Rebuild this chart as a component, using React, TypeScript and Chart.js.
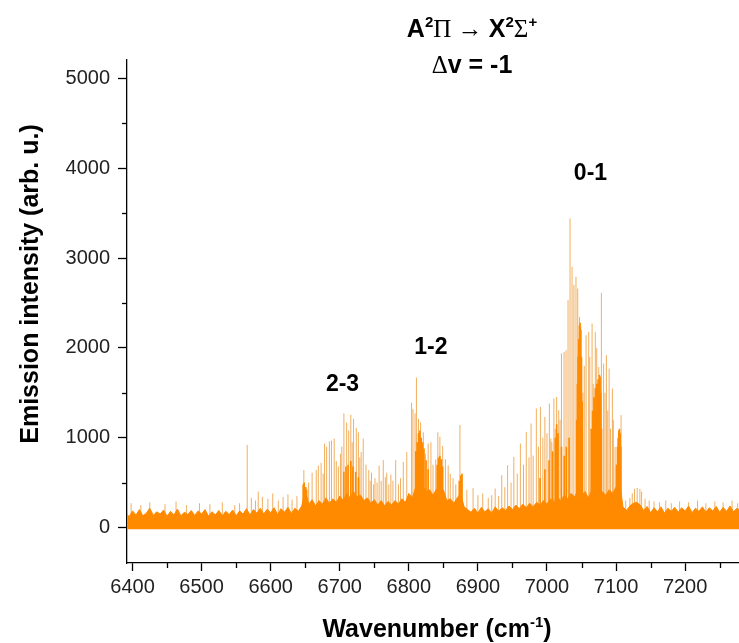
import React, { useEffect, useRef } from 'react';
import { Chart, registerables } from 'chart.js';

Chart.register(...registerables);

// ---- axis limits & ticks ----
const X_MIN = 6392;
const X_MAX = 7278;
const Y_MIN = -395;
const Y_MAX = 5205;
const xTickValues = [6400, 6500, 6600, 6700, 6800, 6900, 7000, 7100, 7200];
const xMinorTicks = [6450, 6550, 6650, 6750, 6850, 6950, 7050, 7150, 7250];
const yTickValues = [0, 1000, 2000, 3000, 4000, 5000];
const yMinorTicks = [500, 1500, 2500, 3500, 4500];

// ---- dense noise floor top edge (every 5 cm-1 from 6390) ----
const noiseStart = 6390;
const noiseStep = 5;
const noiseTop = [
  170, 120, 185, 140, 200, 130, 160, 215, 135, 175, // 6390-6435
  150, 195, 125, 180, 140, 205, 130, 170, 145, 190, // 6440-6485
  135, 185, 150, 200, 125, 175, 140, 190, 130, 180, // 6490-6535
  145, 195, 130, 185, 150, 210, 140, 200, 160, 215, // 6540-6585
  150, 205, 165, 220, 145, 210, 170, 225, 155, 215, // 6590-6635
  180, 240, 420, 260, 310, 240, 300, 260, 330, 270, // 6640-6685
  320, 280, 350, 300, 380, 330, 400, 340, 360, 300, // 6690-6735
  330, 270, 310, 250, 300, 240, 290, 250, 300, 260, // 6740-6785
  320, 280, 380, 330, 450, 380, 470, 400, 420, 360, // 6790-6835
  430, 380, 420, 300, 320, 270, 330, 380, 230, 200, // 6840-6885
  170, 215, 160, 225, 175, 210, 160, 230, 180, 220, // 6890-6935
  190, 240, 200, 250, 210, 260, 220, 270, 230, 280, // 6940-6985
  250, 300, 260, 320, 280, 340, 300, 360, 320, 380, // 6990-7035
  340, 420, 360, 400, 330, 420, 380, 450, 400, 360, // 7040-7085
  420, 380, 450, 520, 230, 190, 240, 270, 280, 250, // 7090-7135
  190, 235, 165, 220, 175, 230, 160, 215, 180, 225, // 7140-7185
  170, 220, 185, 240, 165, 215, 180, 230, 170, 220, // 7190-7235
  185, 235, 170, 225, 180, 240, 175, 215, 190, // 7240-7280
];

// ---- resolved rotational lines [wavenumber, intensity] ----
const preLines: [number, number][] = [
  [6398, 270], [6412, 250], [6425, 280], [6447, 260], [6463, 290], [6478, 250],
  [6497, 270], [6512, 260], [6530, 280], [6548, 250], [6555, 270], [6566, 920],
  [6572, 330], [6578, 300], [6582, 400], [6588, 340], [6596, 320], [6603, 380],
  [6611, 300], [6618, 340], [6625, 370], [6631, 310], [6638, 350],
];
const band23Lines: [number, number][] = [
  [6648, 640], [6652, 450], [6655, 500], [6660, 610], [6666, 640], [6669, 690],
  [6673, 720], [6676, 600], [6678, 935], [6681, 900], [6685, 960], [6688, 970],
  [6692, 990], [6695, 740], [6698, 680], [6701, 820], [6703, 900], [6706, 1270],
  [6710, 1170], [6713, 1080], [6716, 1255], [6718, 950], [6720, 1210], [6724, 1110],
  [6727, 1060], [6729, 780], [6731, 840], [6734, 990], [6738, 700], [6742, 640],
  [6744, 520], [6746, 610], [6749, 480], [6751, 550], [6754, 500], [6757, 690],
  [6760, 520], [6763, 750], [6766, 560], [6768, 610], [6771, 480], [6774, 590],
  [6777, 520], [6781, 750], [6785, 480], [6788, 550], [6792, 730], [6797, 840],
];
const band12Lines: [number, number][] = [
  [6804, 1390], [6806, 1320], [6809, 1270], [6811, 1670], [6814, 1210], [6817, 1170],
  [6821, 1060], [6824, 820], [6828, 935], [6832, 950], [6835, 700], [6839, 760],
  [6842, 1060], [6845, 1010], [6849, 910], [6853, 760], [6857, 690], [6860, 600],
  [6864, 550], [6868, 480], [6874, 1140], [6877, 600], [6884, 420], [6893, 440],
  [6900, 360], [6907, 380], [6915, 330], [6920, 360],
];
const band01Lines: [number, number][] = [
  [6925, 434], [6930, 350], [6934.5, 582], [6939, 450], [6943, 694], [6948, 500],
  [6952, 786], [6957, 600], [6961.5, 935], [6966, 700], [6970, 1065], [6974, 780],
  [6977, 1158], [6980, 800], [6984.6, 1325], [6987.6, 900], [6990.5, 1343], [6994, 1000],
  [6997, 1232], [7000, 1050], [7003.5, 1381], [7005.5, 991], [7007, 950], [7010, 1436],
  [7012, 1100], [7014, 1454], [7017, 1306], [7019, 1200], [7021, 1938], [7024.7, 1955],
  [7027.6, 1974], [7030.5, 2531], [7033.4, 3441], [7036.3, 2902], [7039, 2700], [7042, 2791],
  [7044.5, 2661], [7047, 2345], [7049, 2234], [7052, 1500], [7054, 1800], [7056.6, 2141],
  [7060.4, 2178], [7062, 1900], [7065.3, 2272], [7067, 1600], [7070, 2178], [7072, 2000],
  [7075, 1788], [7078.8, 2612], [7082, 1826], [7084, 1500], [7086, 1919], [7088, 1300],
  [7090, 1770], [7092, 1100], [7094.7, 1548], [7096, 1200], [7098.6, 898], [7100, 700],
  [7102.4, 786], [7107.3, 1251],
];
const postLines: [number, number][] = [
  [7114, 300], [7120, 330], [7123.5, 380], [7126.8, 430], [7130.6, 440], [7134.5, 430],
  [7137, 400], [7142, 320], [7148, 300], [7155, 290], [7163, 280], [7172, 300],
  [7180, 270], [7192, 290], [7205, 280], [7218, 300], [7230, 270], [7243, 290],
  [7255, 280], [7268, 300], [7276, 270],
];
// overlapping (unresolved) lines that appear as solid orange
const denseLines: [number, number][] = [
  [6647, 480], [6648.5, 500], [6650, 450], [6652, 420],
  [6706, 620], [6709, 680], [6712, 700], [6716, 740], [6719, 680], [6723, 620], [6727, 560],
  [6810, 850], [6812, 950], [6814, 1050], [6816, 1080], [6818, 1000], [6820, 950],
  [6822, 880], [6825, 750], [6828, 650], [6841, 700], [6843, 780], [6845, 800],
  [6847, 760], [6849, 680], [6873, 520], [6875, 580], [6877, 600],
  [6990, 550], [6997, 650], [7003, 750], [7008, 850], [7012, 1000], [7014, 1150],
  [7016, 1050], [7021, 900], [7025, 800], [7028, 900], [7032, 1000],
  [7043, 1200], [7044, 1600], [7045, 1900], [7046, 2100], [7047, 2250], [7048, 2280],
  [7049, 2200], [7050, 1900], [7051, 1400],
  [7064, 1100], [7066, 1300], [7068, 1450], [7070, 1550], [7072, 1600], [7074, 1650],
  [7076, 1700], [7077, 1680], [7078, 1500], [7079, 1100],
  [7101, 700], [7102, 900], [7103, 1000], [7104, 1080], [7105, 1100], [7106, 1050], [7107, 900],
];

// ---- band labels [text, wavenumber, intensity] ----
const bandLabels: [string, number, number][] = [
  ['2-3', 6704, 1585],
  ['1-2', 6832, 2004],
  ['0-1', 7063, 3942],
];

const LINE_BASE = 60;
const ORANGE = 'rgb(255,138,0)';
const SANS = '"Liberation Sans", Arial, sans-serif';
const SERIF = '"Liberation Serif", "Times New Roman", serif';

type Run = { t: string; f: string; dy?: number };

function drawRuns(ctx: CanvasRenderingContext2D, runs: Run[], cx: number, baseline: number) {
  let total = 0;
  for (const r of runs) {
    ctx.font = r.f;
    total += ctx.measureText(r.t).width;
  }
  let x = cx - total / 2;
  ctx.textAlign = 'left';
  ctx.textBaseline = 'alphabetic';
  for (const r of runs) {
    ctx.font = r.f;
    ctx.fillText(r.t, x, baseline + (r.dy || 0));
    x += ctx.measureText(r.t).width;
  }
}

function toSegments(list: [number, number][]) {
  const out: any[] = [];
  for (const [wn, h] of list) {
    out.push({ x: wn, y: LINE_BASE });
    out.push({ x: wn, y: h });
    out.push({ x: wn, y: null });
  }
  return out;
}

const decorPlugin = {
  id: 'decor',
  afterDraw(chart: any) {
    const ctx: CanvasRenderingContext2D = chart.ctx;
    const xs = chart.scales.x;
    const ys = chart.scales.y;
    const area = chart.chartArea;
    ctx.save();
    // minor ticks
    ctx.strokeStyle = '#000';
    ctx.lineWidth = 1.3;
    for (const v of xMinorTicks) {
      const px = Math.round(xs.getPixelForValue(v)) + 0.5;
      ctx.beginPath();
      ctx.moveTo(px, area.bottom);
      ctx.lineTo(px, area.bottom + 5);
      ctx.stroke();
    }
    for (const v of yMinorTicks) {
      const py = Math.round(ys.getPixelForValue(v)) + 0.5;
      ctx.beginPath();
      ctx.moveTo(area.left, py);
      ctx.lineTo(area.left - 5, py);
      ctx.stroke();
    }
    ctx.fillStyle = '#000';
    // title
    const B = `bold 25px ${SANS}`;
    const S = `bold 15px ${SANS}`;
    const R = `25px ${SERIF}`;
    drawRuns(ctx, [
      { t: 'A', f: B }, { t: '2', f: S, dy: -10 }, { t: 'Π', f: R },
      { t: ' → ', f: R },
      { t: 'X', f: B }, { t: '2', f: S, dy: -10 }, { t: 'Σ', f: R }, { t: '+', f: S, dy: -10 },
    ], 472, 37);
    drawRuns(ctx, [{ t: 'Δ', f: R }, { t: 'v = -1', f: B }], 472, 73);
    // band labels
    ctx.font = `bold 23px ${SANS}`;
    ctx.textAlign = 'center';
    ctx.textBaseline = 'middle';
    for (const [t, wn, v] of bandLabels) {
      ctx.fillText(t, xs.getPixelForValue(wn), ys.getPixelForValue(v));
    }
    // x axis title
    drawRuns(ctx, [
      { t: 'Wavenumber (cm', f: `bold 25px ${SANS}` },
      { t: '-1', f: `bold 15px ${SANS}`, dy: -10 },
      { t: ')', f: `bold 25px ${SANS}` },
    ], 437, 637);
    // y axis title
    ctx.translate(38, 284);
    ctx.rotate(-Math.PI / 2);
    ctx.font = `bold 25px ${SANS}`;
    ctx.textAlign = 'center';
    ctx.textBaseline = 'alphabetic';
    ctx.fillText('Emission intensity (arb. u.)', 0, 0);
    ctx.restore();
  },
};

export default function App() {
  const ref = useRef<HTMLCanvasElement | null>(null);

  useEffect(() => {
    if (!ref.current) return;
    const envelope = noiseTop.map((v, i) => ({ x: noiseStart + i * noiseStep, y: v }));
    const resolved = toSegments([...preLines, ...band23Lines, ...band12Lines, ...band01Lines, ...postLines]);
    const dense = toSegments(denseLines);
    const tickFont = { family: SANS, size: 20 };
    const chart = new Chart(ref.current, {
      type: 'line',
      data: {
        datasets: [
          {
            label: 'noise',
            data: envelope,
            borderColor: ORANGE,
            backgroundColor: ORANGE,
            borderWidth: 1,
            pointRadius: 0,
            tension: 0,
            fill: { value: -20 },
            order: 1,
          },
          {
            label: 'dense',
            data: dense,
            borderColor: ORANGE,
            borderWidth: 1.6,
            pointRadius: 0,
            spanGaps: false,
            fill: false,
            order: 2,
          },
          {
            label: 'lines',
            data: resolved,
            borderColor: 'rgba(238,155,55,0.8)',
            borderWidth: 1,
            pointRadius: 0,
            spanGaps: false,
            fill: false,
            order: 3,
          },
        ],
      },
      options: {
        animation: false,
        responsive: false,
        devicePixelRatio: 1,
        layout: { padding: { left: 0, right: 0, top: 60, bottom: 0 } },
        plugins: { legend: { display: false }, tooltip: { enabled: false }, title: { display: false } },
        scales: {
          x: {
            type: 'linear',
            min: X_MIN,
            max: X_MAX,
            afterBuildTicks: (s: any) => { s.ticks = xTickValues.map((v) => ({ value: v })); },
            afterFit: (s: any) => { s.height = 80; },
            grid: { drawOnChartArea: false, drawTicks: true, tickLength: 8, tickColor: '#000', tickWidth: 1.3 },
            border: { display: true, color: '#000', width: 1.3 },
            ticks: { font: tickFont, color: '#222', padding: 4, maxRotation: 0, autoSkip: false, callback: (v: any) => String(v) },
          },
          y: {
            type: 'linear',
            min: Y_MIN,
            max: Y_MAX,
            afterBuildTicks: (s: any) => { s.ticks = yTickValues.map((v) => ({ value: v })); },
            afterFit: (s: any) => { s.width = 127; },
            grid: { drawOnChartArea: false, drawTicks: true, tickLength: 9, tickColor: '#000', tickWidth: 1.3 },
            border: { display: true, color: '#000', width: 1.3 },
            ticks: { font: tickFont, color: '#222', padding: 8, autoSkip: false, callback: (v: any) => String(v) },
          },
        },
      },
      plugins: [decorPlugin],
    });
    return () => chart.destroy();
  }, []);

  return (
    <div style={{ position: 'fixed', left: 0, top: 0, width: 739, height: 643, background: '#fff' }}>
      <canvas ref={ref} width={739} height={643} style={{ display: 'block', width: 739, height: 643 }} />
    </div>
  );
}
